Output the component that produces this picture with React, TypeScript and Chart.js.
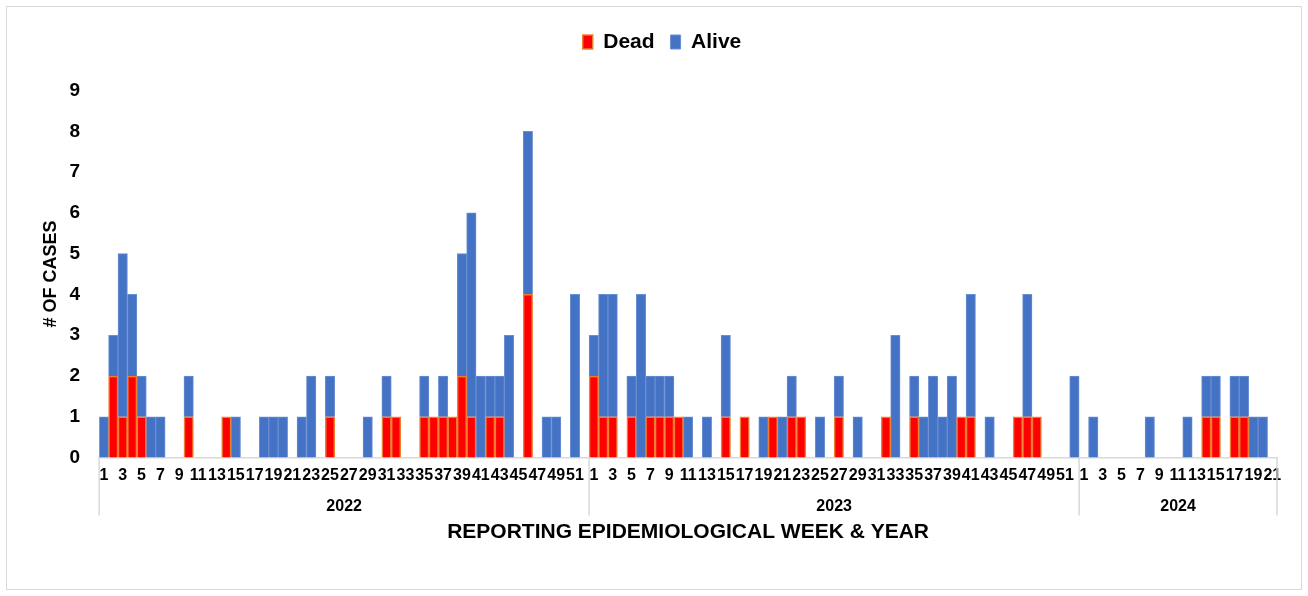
import React, { useEffect, useRef } from 'react';
import { Chart, registerables } from 'chart.js';

Chart.register(...registerables);

const FONT = '"Liberation Sans", Arial, Helvetica, sans-serif';

// Category groups: reporting year and number of epidemiological weeks shown
const years = ['2022', '2023', '2024'];
const weeksPerYear = [52, 52, 21];

// Cases per week (Dead / Alive)
const dead2022 = [
  0, 2, 1, 2, 1, 0, 0, 0, 0, 1,
  0, 0, 0, 1, 0, 0, 0, 0, 0, 0,
  0, 0, 0, 0, 1, 0, 0, 0, 0, 0,
  1, 1, 0, 0, 1, 1, 1, 1, 2, 1,
  0, 1, 1, 0, 0, 4, 0, 0, 0, 0,
  0, 0,
];
const alive2022 = [
  1, 1, 4, 2, 1, 1, 1, 0, 0, 1,
  0, 0, 0, 0, 1, 0, 0, 1, 1, 1,
  0, 1, 2, 0, 1, 0, 0, 0, 1, 0,
  1, 0, 0, 0, 1, 0, 1, 0, 3, 5,
  2, 1, 1, 3, 0, 4, 0, 1, 1, 0,
  4, 0,
];
const dead2023 = [
  2, 1, 1, 0, 1, 0, 1, 1, 1, 1,
  0, 0, 0, 0, 1, 0, 1, 0, 0, 1,
  0, 1, 1, 0, 0, 0, 1, 0, 0, 0,
  0, 1, 0, 0, 1, 0, 0, 0, 0, 1,
  1, 0, 0, 0, 0, 1, 1, 1, 0, 0,
  0, 0,
];
const alive2023 = [
  1, 3, 3, 0, 1, 4, 1, 1, 1, 0,
  1, 0, 1, 0, 2, 0, 0, 0, 1, 0,
  1, 1, 0, 0, 1, 0, 1, 0, 1, 0,
  0, 0, 3, 0, 1, 1, 2, 1, 2, 0,
  3, 0, 1, 0, 0, 0, 3, 0, 0, 0,
  0, 2,
];
const dead2024 = [
  0, 0, 0, 0, 0, 0, 0, 0, 0, 0,
  0, 0, 0, 1, 1, 0, 1, 1, 0, 0,
  0,
];
const alive2024 = [
  0, 1, 0, 0, 0, 0, 0, 1, 0, 0,
  0, 1, 0, 1, 1, 0, 1, 1, 1, 1,
  0,
];

const yTicks = [0, 1, 2, 3, 4, 5, 6, 7, 8, 9];

const deadAll = [...dead2022, ...dead2023, ...dead2024];
const aliveAll = [...alive2022, ...alive2023, ...alive2024];

export default function App() {
  const ref = useRef<HTMLCanvasElement | null>(null);

  useEffect(() => {
    const weekNums: number[] = [];
    const labels: string[] = [];
    years.forEach((yr, i) => {
      for (let w = 1; w <= weeksPerYear[i]; w++) {
        weekNums.push(w);
        labels.push(`${yr}-W${w}`);
      }
    });

    const legendMargin = {
      id: 'legendMargin',
      beforeInit(chart: any) {
        const legend = chart.legend;
        if (!legend) return;
        const orig = legend.fit;
        legend.fit = function () {
          orig.call(this);
          this.height += 28;
        };
      },
      afterLayout(chart: any) {
        const legend = chart.legend;
        if (!legend) return;
        legend.left += 20;
        legend.right += 20;
      },
    };

    const yearAxis = {
      id: 'yearAxis',
      afterDraw(chart: any) {
        const x = chart.scales.x;
        const ctx = chart.ctx;
        const bottom = chart.chartArea.bottom;
        const step = x.getPixelForValue(1) - x.getPixelForValue(0);
        let start = 0;
        ctx.save();
        ctx.strokeStyle = '#d9d9d9';
        ctx.lineWidth = 1.5;
        ctx.font = `bold 16px ${FONT}`;
        ctx.fillStyle = '#000';
        ctx.textAlign = 'center';
        ctx.textBaseline = 'middle';
        years.forEach((yr, i) => {
          const n = weeksPerYear[i];
          const left = x.getPixelForValue(start) - step / 2;
          const right = x.getPixelForValue(start + n - 1) + step / 2;
          ctx.beginPath();
          ctx.moveTo(left, bottom);
          ctx.lineTo(left, bottom + 58);
          if (i === years.length - 1) {
            ctx.moveTo(right, bottom);
            ctx.lineTo(right, bottom + 58);
          }
          ctx.stroke();
          ctx.fillText(yr, (left + right) / 2, bottom + 49);
          start += n;
        });
        ctx.restore();
      },
    };

    const chart = new Chart(ref.current as HTMLCanvasElement, {
      type: 'bar',
      data: {
        labels,
        datasets: [
          {
            label: 'Dead',
            data: deadAll.map((v) => (v === 0 ? null : v)),
            backgroundColor: '#FF0000',
            borderColor: '#ED7D31',
            borderWidth: 1.5,
            categoryPercentage: 1,
            barPercentage: 1,
          },
          {
            label: 'Alive',
            data: aliveAll.map((v) => (v === 0 ? null : v)),
            backgroundColor: '#4472C4',
            borderColor: '#6a8fd3',
            borderWidth: 1,
            categoryPercentage: 1,
            barPercentage: 1,
          },
        ],
      },
      options: {
        animation: false,
        responsive: true,
        maintainAspectRatio: false,
        layout: { padding: { left: 0, right: 24, top: 8.5, bottom: 40 } },
        plugins: {
          legend: {
            position: 'top',
            labels: {
              boxWidth: 10,
              boxHeight: 14,
              padding: 16,
              color: '#000',
              font: { family: FONT, size: 21, weight: 'bold' },
            },
          },
          tooltip: { enabled: false },
        },
        scales: {
          x: {
            stacked: true,
            grid: { display: false, drawTicks: true, tickLength: 8 },
            border: { display: true, color: '#d9d9d9', width: 1.5 },
            ticks: {
              autoSkip: false,
              maxRotation: 0,
              minRotation: 0,
              padding: 0,
              color: '#000',
              font: { family: FONT, size: 16, weight: 'bold' },
              callback: (_v: any, i: number) => (weekNums[i] % 2 === 1 ? String(weekNums[i]) : ''),
            },
            title: {
              display: true,
              text: 'REPORTING EPIDEMIOLOGICAL WEEK & YEAR',
              color: '#000',
              font: { family: FONT, size: 21, weight: 'bold' },
              padding: { top: 35, bottom: 4 },
            },
          },
          y: {
            stacked: true,
            min: yTicks[0],
            max: yTicks[yTicks.length - 1],
            grid: { display: false, drawTicks: true, tickLength: 19 },
            border: { display: false },
            afterBuildTicks: (scale: any) => {
              scale.ticks = yTicks.map((v) => ({ value: v }));
            },
            ticks: {
              stepSize: 1,
              padding: 0,
              color: '#000',
              font: { family: FONT, size: 19, weight: 'bold' },
            },
            title: {
              display: true,
              text: '# OF CASES',
              color: '#000',
              font: { family: FONT, size: 18, weight: 'bold' },
              padding: { top: 33, bottom: 8 },
            },
          },
        },
      },
      plugins: [legendMargin, yearAxis],
    } as any);

    return () => chart.destroy();
  }, []);

  return (
    <div
      style={{
        position: 'absolute',
        left: 6,
        top: 6,
        width: 1296,
        height: 584,
        border: '1px solid #d9d9d9',
        boxSizing: 'border-box',
        background: '#fff',
      }}
    >
      <div style={{ position: 'relative', width: 1294, height: 582 }}>
        <canvas ref={ref} />
      </div>
    </div>
  );
}
